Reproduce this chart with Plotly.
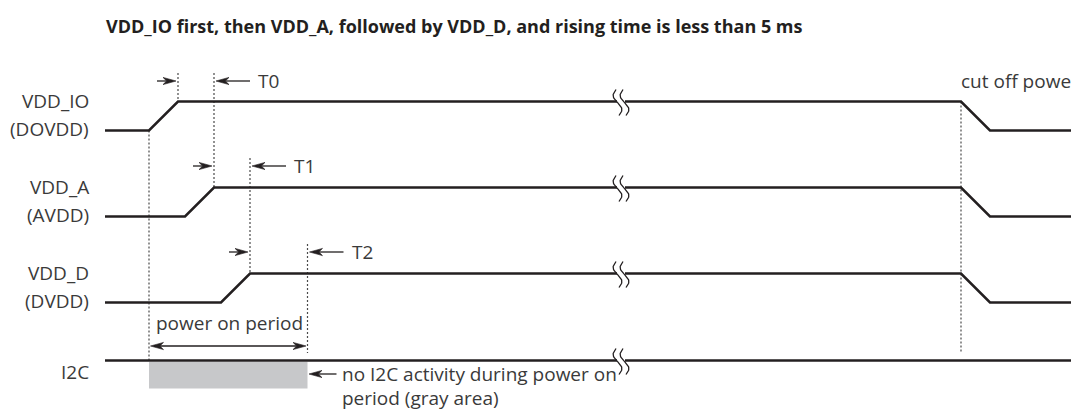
import numpy as np
import plotly.graph_objects as go

# ---------------- data (time axis in diagram units, levels in diagram units) ----------------
title_text = "VDD_IO first, then VDD_A, followed by VDD_D, and rising time is less than 5 ms"
signal_names = ["VDD_IO", "VDD_A", "VDD_D"]
signal_subnames = ["(DOVDD)", "(AVDD)", "(DVDD)"]
high_level = [101.5, 187.5, 273.5]
low_level = [130.5, 216.5, 302.5]
rise_start = [149, 185, 221]
rise_end = [178, 214, 250]
fall_start = [961, 961, 961]
fall_end = [990, 990, 990]
trace_start = 105
trace_end = 1079

interval_labels = ["T0", "T1", "T2"]
interval_start = [178, 214, 250]
interval_end = [214, 250, 307.5]
interval_arrow_level = [81, 166, 252]

i2c_level = 360.5
i2c_label = "I2C"
gray_bottom = 388.5
power_on_start = 149
power_on_end = 307.5
power_on_text = "power on period"
power_on_arrow_level = 346
i2c_note = ["no I2C activity during power on", "period (gray area)"]
cut_off_text = "cut off power"
break_time = 621

# ---------------- styles ----------------
INK = "#231f20"
TXT = "#3a3a3a"
DOT = "#4a4a4a"
FONT = "Open Sans"
LW = 2.5
PAGE_MARGIN = 8  # default body margin of the html page

fig = go.Figure()


def add_line(xs, ys, color=INK, width=LW, dash=None):
    fig.add_trace(go.Scatter(x=xs, y=ys, mode="lines", hoverinfo="skip",
                             line=dict(color=color, width=width, dash=dash)))


def add_head(tip, y, d, L=13, W=3.6):
    xs = [tip, tip - d * L, tip - d * L * 0.72, tip - d * L, tip]
    ys = [y, y - W, y, y + W, y]
    fig.add_trace(go.Scatter(x=xs, y=ys, mode="lines", fill="toself", fillcolor=INK,
                             hoverinfo="skip", line=dict(color=INK, width=0.6)))


def add_arrow(tip, tail, y, both=False, L=13):
    d = 1 if tip > tail else -1
    x0 = tail + d * L * 0.72 if both else tail
    add_line([x0, tip - d * L * 0.72], [y, y], width=1.3)
    add_head(tip, y, d, L)
    if both:
        add_head(tail, y, -d, L)


def add_vdot(x, y0, y1):
    add_line([x, x], [y0, y1], color=DOT, width=1.2, dash="2px,2px")


# gray area (no I2C activity)
fig.add_shape(type="rect", x0=power_on_start, x1=power_on_end, y0=i2c_level + 1.3, y1=gray_bottom,
              fillcolor="#c7c8ca", line=dict(width=0), layer="below")

# dotted guide lines
add_vdot(power_on_start, low_level[0], i2c_level)
add_vdot(interval_start[0], interval_arrow_level[0] - 8, high_level[0])
add_vdot(interval_end[0], interval_arrow_level[0] - 8, high_level[1])
add_vdot(interval_end[1], interval_arrow_level[1] - 8, high_level[2])
add_vdot(interval_end[2], interval_arrow_level[2] - 8, power_on_arrow_level + 7)
add_vdot(fall_start[0], high_level[0], i2c_level - 7)

# supply waveforms
for i in range(3):
    add_line([trace_start, rise_start[i], rise_end[i], fall_start[i], fall_end[i], trace_end],
             [low_level[i], low_level[i], high_level[i], high_level[i], low_level[i], low_level[i]])
# I2C line
add_line([trace_start, trace_end], [i2c_level, i2c_level])

# break marks
t = np.linspace(0, 1, 40)
for lvl in high_level + [i2c_level]:
    add_line([break_time - 4, break_time + 4], [lvl, lvl], color="white", width=4)
    for off in (-3.5, 3.5):
        cx = break_time + off - 1.5
        xs = cx - 3.6 * np.sin(2 * np.pi * t) + 3.0 * t
        ys = lvl - 12 + 26 * t
        add_line(xs, ys, width=1.3)

# interval arrows
for i in range(3):
    y = interval_arrow_level[i]
    add_arrow(interval_start[i] - 2, interval_start[i] - 21, y)
    add_arrow(interval_end[i] + 2, interval_end[i] + 36, y)

# power on period double arrow
add_arrow(power_on_end - 1.5, power_on_start + 1.5, power_on_arrow_level, both=True)
# I2C note arrow
add_arrow(power_on_end + 1.5, power_on_end + 29, 374)

# ---------------- text ----------------
ann = []


def txt(x, y, s, anchor="left", size=19, bold=False, color=TXT):
    ann.append(dict(x=x, y=y, xref="x", yref="y", text=f"<b>{s}</b>" if bold else s,
                    showarrow=False, xanchor=anchor, yanchor="middle",
                    font=dict(family=FONT, size=size, color=color)))


txt(104, 26, title_text, size=18, bold=True, color="#231f20")
for i in range(3):
    txt(91, high_level[i] - 1, signal_names[i], anchor="right")
    txt(91, low_level[i] - 2, signal_subnames[i], anchor="right")
    txt(interval_end[i] + 42, interval_arrow_level[i], interval_labels[i])
txt(91, 372, i2c_label, anchor="right")
txt(154, 322.5, power_on_text)
txt(340, 374, i2c_note[0])
txt(340, 398, i2c_note[1])
txt(959, 81, cut_off_text)

fig.update_layout(
    width=1079 - PAGE_MARGIN, height=414 - PAGE_MARGIN, margin=dict(l=0, r=0, t=0, b=0),
    paper_bgcolor="white", plot_bgcolor="white", showlegend=False,
    xaxis=dict(range=[PAGE_MARGIN, 1079], visible=False, fixedrange=True),
    yaxis=dict(range=[414, PAGE_MARGIN], visible=False, fixedrange=True),
    annotations=ann,
)

fig.write_html("out.html")
